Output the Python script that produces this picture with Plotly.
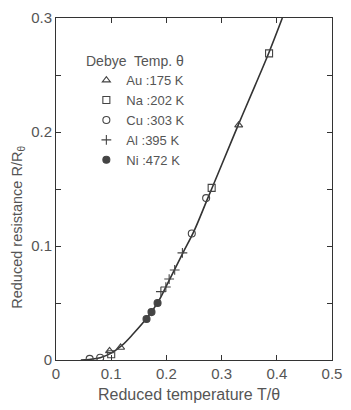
import plotly.graph_objects as go

# ---- data ----
curve_x = [0.045, 0.06, 0.08, 0.10, 0.12, 0.14, 0.165, 0.185, 0.20, 0.23, 0.25, 0.275, 0.30, 0.33, 0.36, 0.386, 0.41]
curve_y = [0.0, 0.0005, 0.002, 0.006, 0.013, 0.023, 0.037, 0.051, 0.065, 0.094, 0.113, 0.142, 0.171, 0.206, 0.24, 0.27, 0.30]

au_x = [0.097, 0.117, 0.331]
au_y = [0.008, 0.011, 0.206]
na_x = [0.100, 0.282, 0.386]
na_y = [0.005, 0.151, 0.269]
cu_x = [0.061, 0.080, 0.246, 0.272]
cu_y = [0.001, 0.002, 0.111, 0.142]
al_x = [0.190, 0.199, 0.205, 0.215, 0.229]
al_y = [0.060, 0.064, 0.071, 0.079, 0.094]
ni_x = [0.164, 0.173, 0.184]
ni_y = [0.036, 0.042, 0.050]

series = [
    ("Au :175 K", au_x, au_y, "triangle-up-open"),
    ("Na :202 K", na_x, na_y, "square-open"),
    ("Cu :303 K", cu_x, cu_y, "circle-open"),
    ("Al :395 K", al_x, al_y, "cross-thin-open"),
    ("Ni :472 K", ni_x, ni_y, "circle"),
]

x_ticks = [0, 0.1, 0.2, 0.3, 0.4, 0.5]
x_labels = ["0", "0.1", "0.2", "0.3", "0.4", "0.5"]
y_ticks = [0, 0.1, 0.2, 0.3]
y_labels = ["0", "0.1", "0.2", "0.3"]

FONT = "Liberation Sans"
GREY = "#555555"
INK = "#333333"
MK = "#444444"

fig = go.Figure()
fig.add_trace(go.Scatter(x=curve_x, y=curve_y, mode="lines",
                         line=dict(color=INK, width=1.6, shape="spline"),
                         showlegend=False, hoverinfo="skip"))
for name, xs, ys, sym in series:
    fig.add_trace(go.Scatter(
        x=xs, y=ys, mode="markers", name=name,
        marker=dict(symbol=sym, size=7, color=MK, line=dict(color=MK, width=1.1)),
    ))

fig.update_layout(
    width=351, height=410,
    margin=dict(l=56, r=9, t=17, b=50),
    paper_bgcolor="white", plot_bgcolor="white",
    font=dict(family=FONT, size=14, color=GREY),
    showlegend=True,
    legend=dict(
        x=0.11, y=0.862, xanchor="left", yanchor="top",
        bgcolor="rgba(0,0,0,0)",
        font=dict(family=FONT, size=13, color=GREY),
        itemwidth=30, tracegroupgap=0,
    ),
    xaxis=dict(range=[-1e-9, 0.5], tickvals=x_ticks, ticktext=x_labels,
               showline=True, linecolor=INK, linewidth=1, mirror="ticks",
               ticks="inside", ticklen=5, tickcolor=INK, showgrid=False, zeroline=False,
               ticklabeloverflow="allow",
               tickfont=dict(size=15, color=GREY)),
    yaxis=dict(range=[0, 0.3], tickvals=y_ticks, ticktext=y_labels,
               showline=True, linecolor=INK, linewidth=1, mirror="ticks",
               ticks="inside", ticklen=5, tickcolor=INK, showgrid=False, zeroline=False,
               ticklabeloverflow="allow",
               minor=dict(dtick=0.05, ticks="inside", ticklen=5, tickcolor=INK, showgrid=False),
               tickfont=dict(size=15, color=GREY)),
    annotations=[
        dict(text="Debye  Temp. θ", xref="paper", yref="paper",
             x=(85 - 56) / 286, y=(360 - 60) / 343, xanchor="left", yanchor="middle",
             showarrow=False, font=dict(family=FONT, size=14, color=GREY)),
        dict(text="Reduced temperature T/θ", xref="paper", yref="paper",
             x=(194 - 56) / 286, y=-(395 - 360) / 343, xanchor="center", yanchor="middle",
             showarrow=False, font=dict(family=FONT, size=16, color=GREY)),
        dict(text="Reduced resistance R/R<sub>θ</sub>", xref="paper", yref="paper",
             x=-(56 - 17) / 286, y=(360 - 227) / 343, xanchor="center", yanchor="middle",
             textangle=-90, showarrow=False, font=dict(family=FONT, size=14.5, color=GREY)),
    ],
)

fig.write_html("out.html")
